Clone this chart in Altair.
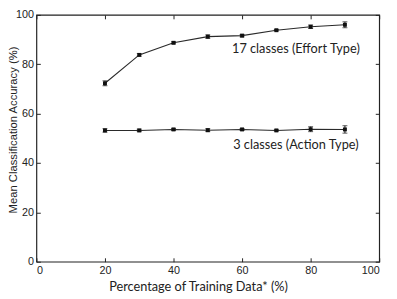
import altair as alt
import pandas as pd

pct = [20, 30, 40, 50, 60, 70, 80, 90]
effort_mean = [72.3, 83.8, 88.7, 91.2, 91.6, 93.8, 95.2, 96.0]
effort_err = [1.0, 0.5, 0.4, 0.7, 0.5, 0.3, 0.7, 1.2]
action_mean = [53.2, 53.2, 53.6, 53.3, 53.6, 53.2, 53.7, 53.6]
action_err = [0.7, 0.5, 0.4, 0.6, 0.4, 0.3, 1.0, 1.5]
series_names = ["17 classes (Effort Type)", "3 classes (Action Type)"]
label_x = [75.7, 75.7]
label_y = [86.0, 47.3]
x_ticks = [0, 20, 40, 60, 80, 100]
y_ticks = [0, 20, 40, 60, 80, 100]

rows = []
for name, means, errs in [(series_names[0], effort_mean, effort_err),
                          (series_names[1], action_mean, action_err)]:
    for p, m, e in zip(pct, means, errs):
        rows.append({"series": name, "pct": p, "mean": m, "lo": m - e, "hi": m + e})
df = pd.DataFrame(rows)
labels = pd.DataFrame({"text": series_names, "x": label_x, "y": label_y})

W, H = 350, 252
FONT = "Lato"
TICKFONT = "Liberation Sans"
FS = 13
LFS = 11
xs = alt.Scale(domain=[0, 100], nice=False, zero=False)
ys = alt.Scale(domain=[0, 100], nice=False, zero=False)

ax_bottom = alt.Axis(orient="bottom", values=x_ticks, ticks=False, domain=False, grid=False,
                     labelPadding=3, labelFontSize=LFS, labelFont=TICKFONT, labelColor="#222",
                     title="Percentage of Training Data* (%)", titleFont=FONT, titleFontSize=FS,
                     titleFontWeight="normal", titleColor="#222", titlePadding=5,
                     titleX=165, titleAnchor="middle", titleAlign="center")
ay_left = alt.Axis(orient="left", values=y_ticks, ticks=False, domain=False, grid=False,
                   labelPadding=3, labelFontSize=LFS, labelFont=TICKFONT, labelColor="#222",
                   title="Mean Classification Accuracy (%)", titleFont=TICKFONT,
                   titleFontSize=11.5, titleFontWeight="normal", titleColor="#222",
                   titleX=-18, titleY=H / 2 - 9, titleAngle=270, titleBaseline="bottom",
                   titleAlign="center")


def tick_axis(orient, values, offset):
    return alt.Axis(orient=orient, values=values, offset=offset, labels=False, domain=False,
                    grid=False, tickSize=4, tickColor="#222", tickWidth=1, title=None)


base = alt.Chart(df)

line = base.mark_line(color="#2a2a2a", strokeWidth=1.1).encode(
    x=alt.X("pct:Q", scale=xs, axis=ax_bottom),
    y=alt.Y("mean:Q", scale=ys, axis=ay_left),
    detail="series:N",
)

points = base.mark_point(filled=True, shape="square", size=16, color="#111", opacity=1).encode(
    x=alt.X("pct:Q", scale=xs, axis=tick_axis("top", x_ticks, -H)),
    y=alt.Y("mean:Q", scale=ys, axis=tick_axis("right", y_ticks, -W)),
)

bars = base.mark_rule(color="#111", strokeWidth=1).encode(
    x=alt.X("pct:Q", scale=xs, axis=tick_axis("bottom", x_ticks, -H)),
    y=alt.Y("lo:Q", scale=ys, axis=tick_axis("left", y_ticks, -W)),
    y2="hi:Q",
)

cap_lo = base.mark_tick(orient="horizontal", size=5, thickness=1, color="#111").encode(
    x=alt.X("pct:Q", scale=xs, axis=None),
    y=alt.Y("lo:Q", scale=ys, axis=None),
)
cap_hi = base.mark_tick(orient="horizontal", size=5, thickness=1, color="#111").encode(
    x=alt.X("pct:Q", scale=xs, axis=None),
    y=alt.Y("hi:Q", scale=ys, axis=None),
)

text = alt.Chart(labels).mark_text(font=FONT, fontSize=FS, color="#222", align="center",
                                   baseline="middle").encode(
    x=alt.X("x:Q", scale=xs, axis=None),
    y=alt.Y("y:Q", scale=ys, axis=None),
    text="text:N",
)

chart = (
    alt.layer(line, points, bars, cap_lo, cap_hi, text)
    .resolve_axis(x="independent", y="independent")
    .properties(
        width=W,
        height=H,
        autosize=alt.AutoSizeParams(type="none"),
        padding={"left": 29, "top": 4, "right": 10, "bottom": 35},
        background="white",
    )
    .configure_view(stroke="#222", strokeWidth=1.2)
)

chart.save("out.html", embed_options={"renderer": "svg", "actions": False})
